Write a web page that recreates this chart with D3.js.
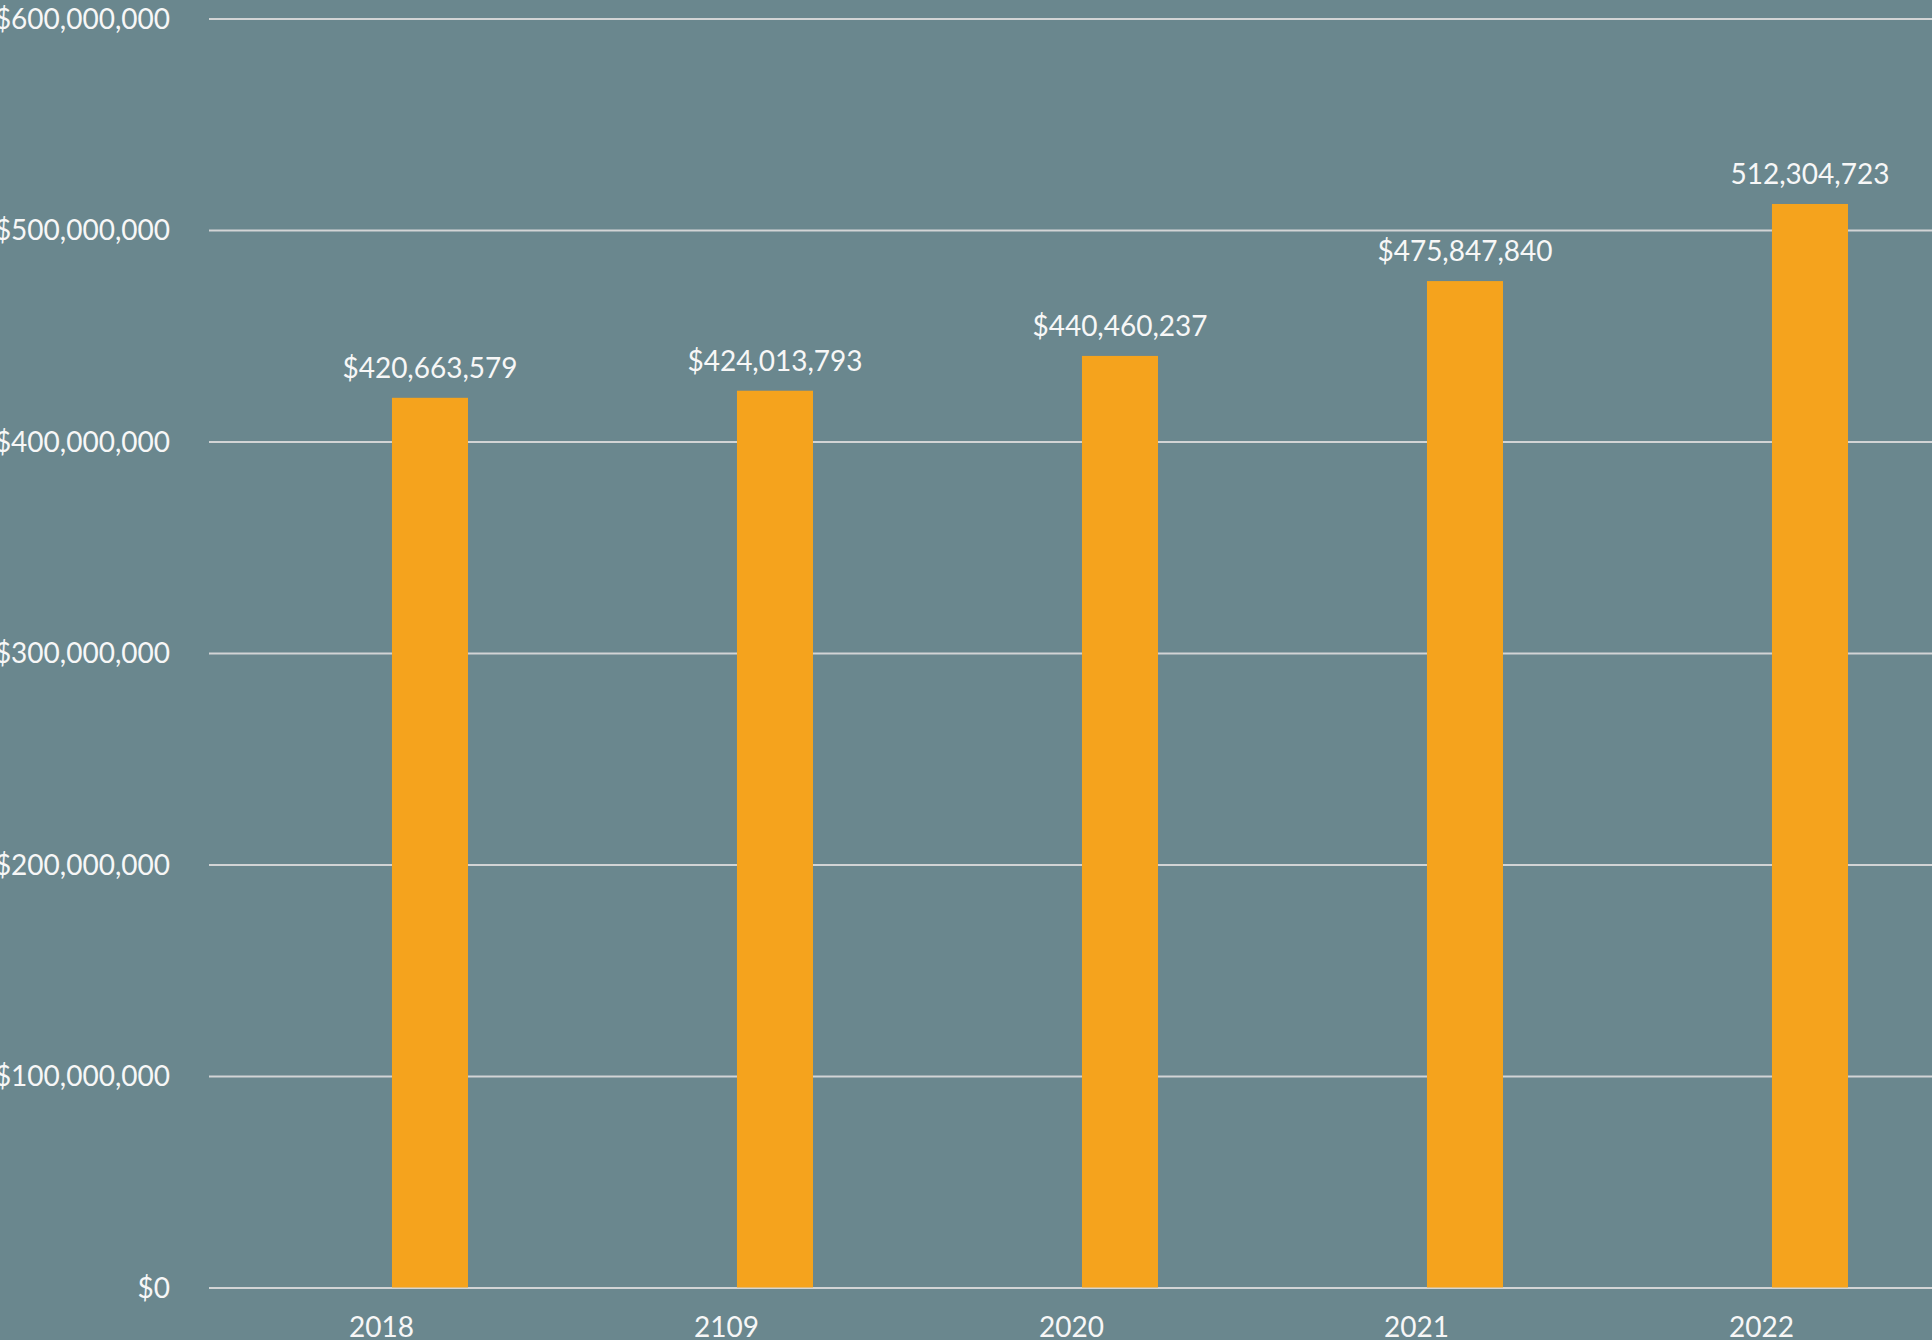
<!DOCTYPE html>
<html>
<head>
<meta charset="utf-8">
<script src="https://cdn.jsdelivr.net/npm/d3@7"></script>
<style>
    html, body { margin: 0; padding: 0; background: #6a878e; overflow: hidden; }
    svg { display: block; }
    text { font-family: 'Gill Sans', 'Gill Sans MT', Lato, sans-serif; fill: #f7f7f7; }
</style>
</head>
<body>
<div id="chart"></div>
<script>
// data
const years = ['2018', '2109', '2020', '2021', '2022'];
const totals = [420663579, 424013793, 440460237, 475847840, 512304723];
const valueLabels = ['$420,663,579', '$424,013,793', '$440,460,237', '$475,847,840', '512,304,723'];
const yTicks = [0, 100000000, 200000000, 300000000, 400000000, 500000000, 600000000];
// the bars sit in the second slot of each year, the first slot is empty
const slots = ['empty', 'total'];

const width = 1932,
    height = 1340,
    margins = {
        left: 209,
        top: 18.5,
        bottom: 52.5
    };

const svg = d3.select('#chart').append('svg')
    .attr('width', width)
    .attr('height', height);

svg.append('rect')
    .attr('width', width)
    .attr('height', height)
    .attr('fill', '#6a878e');

const baseY = height - margins.bottom;

const scaleY = d3.scaleLinear()
    .domain([0, 600000000])
    .range([baseY, margins.top]);

// band range runs a little past the right edge, as in the reference
const scaleX = d3.scaleBand()
    .domain(years)
    .range([margins.left, margins.left + 345 * years.length]);

const scaleSlot = d3.scaleBand()
    .domain(slots)
    .range([0, scaleX.bandwidth()])
    .paddingInner(0.216)
    .paddingOuter(0.887);

// Axises

const axisY = d3.axisLeft(scaleY)
    .tickValues(yTicks)
    .tickFormat(d3.format('$,'))
    .tickSize(-(width - margins.left))
    .tickPadding(39);

const gy = svg.append('g')
    .attr('transform', 'translate(' + margins.left + ', 0)')
    .call(axisY);

gy.select('.domain').remove();
gy.selectAll('line')
    .attr('stroke', '#d2d4d5')
    .attr('stroke-width', 2);
gy.selectAll('text')
    .attr('font-size', 28)
    .attr('dy', '0.35em')
    .attr('fill', '#f7f7f7');

const axisX = d3.axisBottom(scaleX).tickSize(0);

const gx = svg.append('g')
    .attr('transform', 'translate(0, ' + baseY + ')')
    .call(axisX);

gx.select('.domain').remove();
gx.selectAll('text')
    .attr('font-size', 28)
    .attr('y', 49)
    .attr('dy', 0)
    .attr('fill', '#f7f7f7');

// bars

const barX = i => scaleX(years[i]) + scaleSlot('total');

svg.append('g')
    .selectAll('rect')
    .data(totals)
    .join('rect')
    .attr('x', (d, i) => barX(i))
    .attr('y', d => scaleY(d))
    .attr('width', scaleSlot.bandwidth())
    .attr('height', d => baseY - scaleY(d))
    .attr('fill', '#f5a31d');

svg.append('g')
    .selectAll('text')
    .data(totals)
    .join('text')
    .attr('x', (d, i) => barX(i) + scaleSlot.bandwidth() / 2)
    .attr('y', d => scaleY(d) - 20)
    .attr('text-anchor', 'middle')
    .attr('font-size', 28)
    .text((d, i) => valueLabels[i]);
</script>
</body>
</html>
